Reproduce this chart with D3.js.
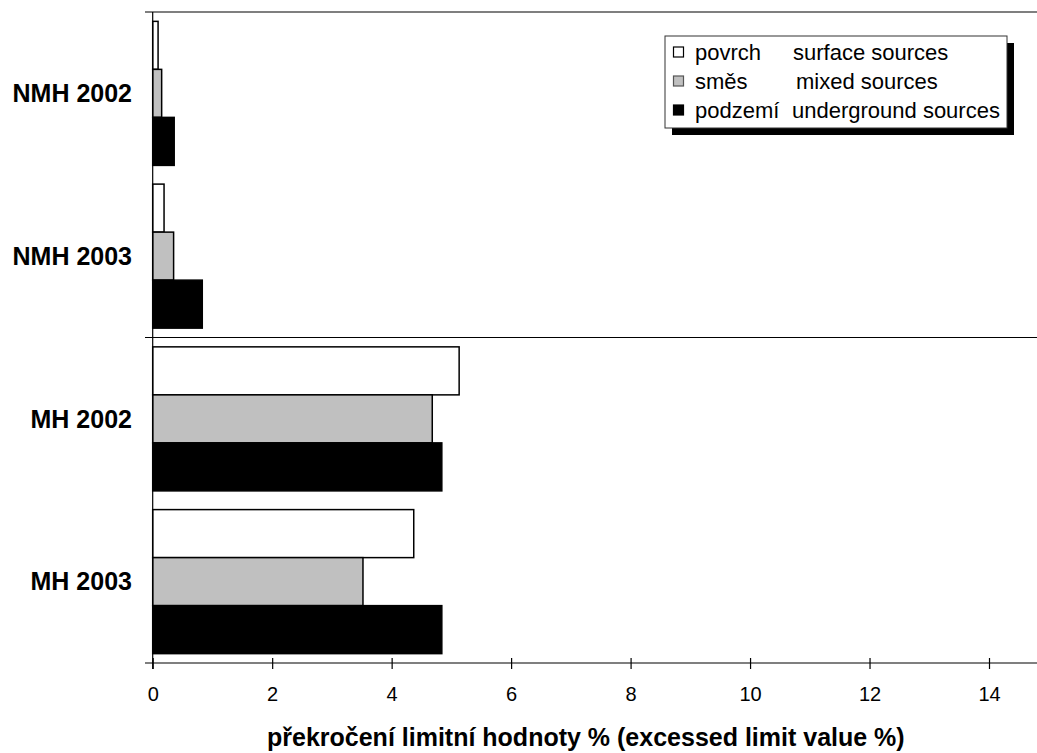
<!DOCTYPE html>
<html>
<head>
<meta charset="utf-8">
<script src="https://cdn.jsdelivr.net/npm/d3@7/dist/d3.min.js"></script>
<style>
  html, body { margin: 0; padding: 0; background: #fff; }
  svg { display: block; font-family: Arial, "Liberation Sans", sans-serif; }
</style>
</head>
<body>
<svg id="chart" width="1037" height="753"></svg>
<script>
// Categories (top to bottom) and series
const categories = ["NMH 2002", "NMH 2003", "MH 2002", "MH 2003"];
const seriesKeys = ["povrch", "smes", "podzemi"];
const seriesCz = ["povrch", "směs", "podzemí"];
const seriesEn = ["surface sources", "mixed sources", "underground sources"];
const seriesFill = ["#ffffff", "#c0c0c0", "#000000"];

// Excess of limit value, % — one array per series, in category order
const povrch  = [0.09, 0.19, 5.13, 4.37];
const smes    = [0.15, 0.35, 4.68, 3.52];
const podzemi = [0.36, 0.83, 4.84, 4.84];

const xTicks = [0, 2, 4, 6, 8, 10, 12, 14];
const xTitle = "překročení limitní hodnoty % (excessed limit value %)";

const values = { povrch, smes, podzemi };
const rows = categories.map((c, i) => ({
  category: c,
  values: seriesKeys.map((k, j) => ({ key: k, idx: j, value: values[k][i] }))
}));

const svg = d3.select("#chart");
const plot = { left: 152.7, top: 12, bottom: 663, right: 1037 };

const x = d3.scaleLinear().domain([0, 14]).range([plot.left, 989]);
const y = d3.scaleBand().domain(categories)
  .range([plot.top, plot.bottom])
  .paddingInner(0.115).paddingOuter(0.0575);
const ySub = d3.scaleBand().domain(seriesKeys).range([0, y.bandwidth()]);

// Bars
const groups = svg.append("g").selectAll("g").data(rows).join("g")
  .attr("transform", d => `translate(0,${y(d.category)})`);
groups.selectAll("rect").data(d => d.values).join("rect")
  .attr("x", x(0))
  .attr("y", d => ySub(d.key))
  .attr("width", d => x(d.value) - x(0))
  .attr("height", ySub.bandwidth())
  .attr("fill", d => seriesFill[d.idx])
  .attr("stroke", "#000")
  .attr("stroke-width", 1.5);

// Horizontal frame lines at the top, middle and bottom of the category axis
const step = y.step();
const hLines = [plot.top, plot.top + step * 2, plot.bottom];
svg.append("g").selectAll("line").data(hLines).join("line")
  .attr("x1", 145).attr("x2", plot.right)
  .attr("y1", d => d).attr("y2", d => d)
  .attr("stroke", "#000").attr("stroke-width", 1.2);

// Vertical value-zero axis
svg.append("line")
  .attr("x1", plot.left).attr("x2", plot.left)
  .attr("y1", plot.top).attr("y2", plot.bottom + 6)
  .attr("stroke", "#000").attr("stroke-width", 1.2);

// X axis ticks and labels
const xAxis = d3.axisBottom(x).tickValues(xTicks).tickSize(0).tickPadding(0);
const gx = svg.append("g").attr("transform", `translate(0,${plot.bottom})`).call(xAxis);
gx.select(".domain").remove();
gx.selectAll(".tick line")
  .attr("y1", -5).attr("y2", 6)
  .attr("stroke", "#000").attr("stroke-width", 1.2);
gx.selectAll(".tick text")
  .attr("y", 38).attr("dy", null)
  .attr("font-size", 20).attr("fill", "#000")
  .attr("font-family", "Arial, 'Liberation Sans', sans-serif");

// Category labels
svg.append("g").selectAll("text").data(categories).join("text")
  .attr("x", 132)
  .attr("y", d => y(d) + y.bandwidth() / 2)
  .attr("dy", "0.35em")
  .attr("text-anchor", "end")
  .attr("font-size", 25)
  .attr("font-weight", "bold")
  .text(d => d);

// Axis title
svg.append("text")
  .attr("x", 267).attr("y", 746)
  .attr("text-anchor", "start")
  .attr("font-size", 25)
  .attr("font-weight", "bold")
  .text(xTitle);

// Legend with drop shadow
const lg = svg.append("g").attr("transform", "translate(665,36)");
const lgW = 342, lgH = 92;
lg.append("rect").attr("x", 7).attr("y", 7).attr("width", lgW).attr("height", lgH).attr("fill", "#000");
lg.append("rect").attr("x", 0).attr("y", 0).attr("width", lgW).attr("height", lgH)
  .attr("fill", "#fff").attr("stroke", "#333").attr("stroke-width", 1);
const enX = [128, 131, 127];
const items = lg.selectAll("g.item").data(seriesKeys).join("g")
  .attr("class", "item")
  .attr("transform", (d, i) => `translate(0,${16 + i * 29})`);
items.append("rect")
  .attr("x", 8.5).attr("y", -5).attr("width", 10).attr("height", 10)
  .attr("fill", (d, i) => seriesFill[i])
  .attr("stroke", (d, i) => i === 1 ? "#555" : "#000").attr("stroke-width", 1.2);
items.append("text")
  .attr("x", 30).attr("dy", "0.35em")
  .attr("font-size", 22)
  .text((d, i) => seriesCz[i]);
items.append("text")
  .attr("x", (d, i) => enX[i]).attr("dy", "0.35em")
  .attr("font-size", 22)
  .text((d, i) => seriesEn[i]);
</script>
</body>
</html>
